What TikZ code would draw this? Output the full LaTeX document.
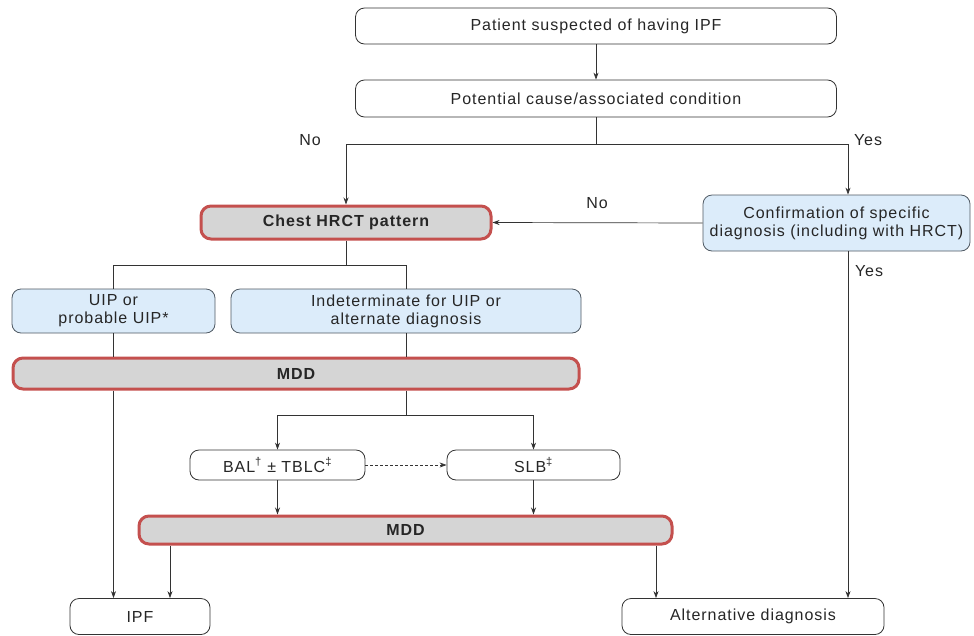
\documentclass[tikz,border=0pt]{standalone}
\usepackage{fontspec}
\setmainfont{Liberation Sans}[LetterSpace=6]
\usetikzlibrary{arrows.meta}
\definecolor{redb}{HTML}{C4504E}
\definecolor{grayf}{HTML}{D5D5D5}
\definecolor{bluef}{HTML}{DCECFA}
\definecolor{blued}{HTML}{4F5963}
\definecolor{linec}{HTML}{333333}
\begin{document}
\begin{tikzpicture}[x=1pt,y=-1pt,
  every node/.style={font=\fontsize{16}{18}\selectfont, text=black!85},
  whitebox/.style={draw=linec, line width=0.8pt, rounded corners=9pt, fill=white, inner sep=0pt, align=center},
  bluebox/.style={draw=blued, line width=0.8pt, rounded corners=9pt, fill=bluef, inner sep=0pt, align=center},
  redbox/.style={draw=redb, line width=3pt, rounded corners=10pt, fill=grayf, inner sep=0pt, align=center, font=\fontsize{16}{18}\selectfont\bfseries},
  conn/.style={draw=linec, line width=0.7pt},
  arr/.style={conn, -{Stealth[length=7pt,width=5pt]}},
  lbl/.style={inner sep=0pt}]
\useasboundingbox (0,0) rectangle (974,635);
\node[whitebox, minimum width=481, minimum height=36] (p1) at (596,26) {Patient suspected of having IPF};
\node[whitebox, minimum width=481, minimum height=37] (p2) at (596,98.5) {Potential cause/associated condition};
\node[redbox, minimum width=290, minimum height=33] (chest) at (346,222.5) {Chest HRCT pattern};
\node[bluebox, minimum width=267, minimum height=56] (conf) at (836.5,223) {Confirmation of specific\\diagnosis (including with HRCT)};
\node[bluebox, minimum width=203, minimum height=44] (uip) at (113.5,311) {UIP or\\probable UIP*};
\node[bluebox, minimum width=350, minimum height=44] (ind) at (406,311) {Indeterminate for UIP or\\alternate diagnosis};
\node[redbox, minimum width=566, minimum height=31] (mdd1) at (296,373.5) {MDD};
\node[whitebox, minimum width=175, minimum height=30] (bal) at (277.5,465) {BAL\textsuperscript{\textdagger} \textpm{} TBLC\textsuperscript{\textdaggerdbl}};
\node[whitebox, minimum width=173, minimum height=30] (slb) at (533.5,465) {SLB\textsuperscript{\textdaggerdbl}};
\node[redbox, minimum width=533, minimum height=28] (mdd2) at (405.5,530) {MDD};
\node[whitebox, minimum width=140, minimum height=36] (ipf) at (140,616.5) {IPF};
\node[whitebox, minimum width=262, minimum height=36] (alt) at (753,616.5) {Alternative diagnosis};

\node[lbl] (lno1) at (310,140) {No};
\node[lbl] (lyes1) at (868,140) {Yes};
\node[lbl] (lno2) at (597,203) {No};
\node[lbl] (lyes2) at (869,271) {Yes};

\coordinate (j1) at (596,144);
\coordinate (jr) at (848,144);
\coordinate (j2) at (346,265);
\coordinate (j3) at (406,415);

\draw[arr] (p1) -- (p2);
\draw[conn] (p2.south) -- (j1);
\draw[arr] (j1) -| (chest.north);
\draw[arr] (j1) -- (jr) -- (jr |- conf.north);
\draw[arr] (conf.west) -- (chest.east);
\draw[arr] (conf.south -| jr) -- (alt.north -| jr);
\draw[conn] (chest.south) -- (j2);
\draw[conn] (j2) -| (uip.north);
\draw[conn] (j2) -| (ind.north);
\draw[conn] (uip.south) -- (uip.south |- mdd1.north);
\draw[conn] (ind.south) -- (ind.south |- mdd1.north);
\draw[arr] (uip.south |- mdd1.south) -- (uip.south |- ipf.north);
\draw[conn] (ind.south |- mdd1.south) -- (j3);
\draw[arr] (j3) -| (bal.north);
\draw[arr] (j3) -| (slb.north);
\draw[arr, dashed, dash pattern=on 3pt off 2pt] (bal.east) -- (slb.west);
\draw[arr] (bal.south) -- (bal.south |- mdd2.north);
\draw[arr] (slb.south) -- (slb.south |- mdd2.north);
\draw[arr] ([xshift=30]ipf.north |- mdd2.south) -- ([xshift=30]ipf.north);
\draw[arr] ([xshift=-97]alt.north |- mdd2.south) -- ([xshift=-97]alt.north);
\end{tikzpicture}
\end{document}
